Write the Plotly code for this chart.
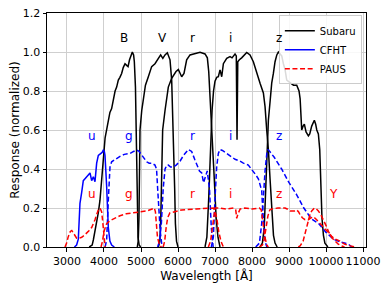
import plotly.graph_objects as go

# ---------------- Subaru (black, solid) ----------------
sub_B_wl = [3600, 3680, 3712, 3760, 3802, 3850, 3892, 3937, 3982, 4030, 4080, 4130, 4160, 4207, 4260, 4300,
            4342, 4387, 4430, 4477, 4520, 4568, 4620, 4650, 4690, 4720, 4766, 4800, 4820, 4850, 4865, 4880,
            4900, 4920, 4950, 4990]
sub_B_r = [0, 0.01, 0.036, 0.08, 0.12, 0.18, 0.24, 0.34, 0.47, 0.56, 0.61, 0.65, 0.69, 0.71, 0.76, 0.8,
           0.82, 0.856, 0.87, 0.89, 0.92, 0.94, 0.93, 0.925, 0.96, 0.975, 1.0, 0.985, 0.95, 0.82, 0.6, 0.35,
           0.15, 0.05, 0.01, 0]

sub_V_wl = [4900, 4925, 4945, 4960, 4973, 5020, 5063, 5120, 5198, 5288, 5378, 5468, 5531, 5590, 5649, 5712,
            5750, 5784, 5829, 5874, 5892, 5910, 5930, 5960, 6000]
sub_V_r = [0, 0.03, 0.15, 0.4, 0.6, 0.7, 0.77, 0.83, 0.873, 0.925, 0.94, 0.967, 0.985, 0.967, 0.985, 0.996,
           0.98, 0.96, 0.856, 0.6, 0.5, 0.3, 0.12, 0.03, 0]

sub_r_wl = [5470, 5510, 5535, 5555, 5585, 5649, 5700, 5738, 5829, 5946, 6009, 6060, 6099, 6162, 6234, 6325,
            6460, 6595, 6730, 6793, 6830, 6860, 6900, 6937, 6980, 7030, 7080, 7135]
sub_r_r = [0, 0.03, 0.15, 0.45, 0.6, 0.70, 0.77, 0.82, 0.865, 0.9, 0.91, 0.89, 0.873, 0.89, 0.96, 0.985,
           0.99, 0.998, 0.99, 0.97, 0.9, 0.8, 0.65, 0.55, 0.35, 0.15, 0.05, 0]

sub_i_wl = [6730, 6780, 6830, 6883, 6920, 6960, 7000, 7046, 7090, 7136, 7181, 7226, 7316, 7406, 7460, 7541,
            7575, 7595, 7615, 7658, 7720, 7857, 7946, 8036, 8127, 8217, 8307, 8352, 8397, 8442, 8487, 8532,
            8580, 8622, 8680]
sub_i_r = [0, 0.05, 0.25, 0.55, 0.7, 0.8, 0.85, 0.87, 0.873, 0.908, 0.873, 0.94, 0.967, 0.976, 0.97, 0.99,
           0.98, 0.55, 0.95, 0.96, 0.97, 0.998, 0.985, 0.95, 0.89, 0.84, 0.79, 0.72, 0.6, 0.5, 0.35, 0.17,
           0.06, 0.02, 0]

sub_z_wl = [8217, 8280, 8330, 8370, 8400, 8442, 8490, 8532, 8577, 8622, 8670, 8712, 8760, 8803, 8848, 8893,
            8938, 8983, 9028, 9120, 9208, 9270, 9300, 9343, 9380, 9414, 9460, 9523, 9560, 9613, 9684, 9720,
            9750, 9793, 9830, 9860, 9890, 9930, 9970, 10050]
sub_z_r = [0, 0.02, 0.1, 0.3, 0.5, 0.65, 0.75, 0.84, 0.89, 0.95, 0.985, 1.0, 0.99, 0.98, 0.94, 0.91,
           0.856, 0.85, 0.84, 0.83, 0.83, 0.8, 0.76, 0.6, 0.62, 0.63, 0.59, 0.57, 0.58, 0.62, 0.65, 0.63,
           0.6, 0.58, 0.5, 0.33, 0.15, 0.06, 0.02, 0]

# ---------------- CFHT (blue; u solid, others dashed) ----------------
cfht_u_wl = [3200, 3260, 3306, 3351, 3397, 3441, 3487, 3549, 3622, 3667, 3712, 3757, 3802, 3847, 3900, 3950,
             3982, 4010, 4027, 4050, 4072, 4095, 4117, 4160, 4207, 4280]
cfht_u_r = [0, 0.01, 0.04, 0.224, 0.28, 0.34, 0.35, 0.365, 0.38, 0.34, 0.36, 0.335, 0.43, 0.47, 0.48, 0.485,
            0.497, 0.49, 0.47, 0.4, 0.31, 0.2, 0.1, 0.03, 0.01, 0]

cfht_g_wl = [4030, 4072, 4117, 4162, 4207, 4300, 4432, 4550, 4703, 4800, 4883, 4950, 5018, 5100, 5153, 5220,
             5288, 5378, 5420, 5450, 5490, 5520, 5570]
cfht_g_r = [0, 0.036, 0.24, 0.41, 0.437, 0.45, 0.465, 0.475, 0.48, 0.49, 0.497, 0.49, 0.47, 0.45, 0.437, 0.43,
            0.43, 0.42, 0.4, 0.3, 0.18, 0.08, 0]

cfht_r_wl = [5450, 5500, 5550, 5600, 5650, 5700, 5738, 5800, 5873, 5950, 6054, 6150, 6279, 6369, 6450, 6505,
             6580, 6640, 6690, 6740, 6790, 6850, 6900, 6950]
cfht_r_r = [0, 0.03, 0.12, 0.3, 0.4, 0.42, 0.42, 0.41, 0.41, 0.42, 0.44, 0.47, 0.5, 0.49, 0.45, 0.42,
            0.39, 0.38, 0.33, 0.36, 0.39, 0.3, 0.1, 0]

cfht_i_wl = [6900, 6955, 7000, 7045, 7090, 7136, 7200, 7316, 7406, 7541, 7676, 7766, 7901, 7946, 8036, 8100,
             8171, 8230, 8262, 8289, 8320, 8352, 8400]
cfht_i_r = [0, 0.05, 0.25, 0.41, 0.48, 0.5, 0.495, 0.48, 0.47, 0.45, 0.44, 0.43, 0.42, 0.41, 0.39, 0.37,
            0.35, 0.31, 0.29, 0.19, 0.08, 0.03, 0]

cfht_z_wl = [8100, 8200, 8262, 8307, 8352, 8400, 8430, 8480, 8600, 8800, 9000, 9200, 9400, 9600, 9800, 10000,
             10200, 10400, 10600, 10700]
cfht_z_r = [0, 0.02, 0.12, 0.26, 0.39, 0.48, 0.5, 0.49, 0.46, 0.4, 0.33, 0.27, 0.2, 0.145, 0.12, 0.075,
            0.04, 0.025, 0.015, 0]

# ---------------- PAUS (red, dashed) ----------------
paus_u_wl = [2946, 2990, 3030, 3090, 3130, 3200, 3261, 3330, 3397, 3470, 3532, 3600, 3667, 3720, 3757, 3800,
             3847, 3892, 3937, 3960, 3982, 4005, 4030]
paus_u_r = [0, 0.02, 0.05, 0.08, 0.085, 0.065, 0.045, 0.045, 0.05, 0.06, 0.07, 0.085, 0.1, 0.12, 0.14, 0.165,
            0.19, 0.2, 0.18, 0.14, 0.085, 0.04, 0]

paus_g_wl = [3920, 3960, 4000, 4040, 4072, 4162, 4300, 4432, 4600, 4793, 4950, 5153, 5333, 5360, 5390, 5420,
             5445, 5500, 5550]
paus_g_r = [0, 0.03, 0.08, 0.11, 0.12, 0.135, 0.15, 0.16, 0.17, 0.175, 0.18, 0.185, 0.197, 0.2, 0.18, 0.1,
            0.05, 0.01, 0]

paus_r_wl = [5600, 5640, 5680, 5720, 5780, 5900, 6100, 6500, 6900, 6960, 7000, 7045, 7100, 7160, 7225]
paus_r_r = [0, 0.03, 0.1, 0.15, 0.175, 0.18, 0.19, 0.195, 0.2, 0.2, 0.18, 0.15, 0.08, 0.03, 0]

paus_i_wl = [6820, 6880, 6930, 6970, 7000, 7100, 7300, 7500, 7560, 7587, 7620, 7680, 7800, 8000, 8200, 8250,
             8300, 8350, 8400, 8440]
paus_i_r = [0, 0.03, 0.1, 0.17, 0.2, 0.2, 0.195, 0.2, 0.19, 0.147, 0.17, 0.195, 0.2, 0.195, 0.2, 0.19,
            0.12, 0.05, 0.01, 0]

paus_z_wl = [8200, 8280, 8330, 8380, 8430, 8480, 8532, 8700, 8893, 8950, 9028, 9073, 9150, 9208, 9260, 9298,
             9360, 9433, 9523, 9600, 9658, 9720, 9793, 9860, 9928, 10040, 10153, 10250, 10378, 10500, 10604,
             10800]
paus_z_r = [0, 0.01, 0.04, 0.1, 0.16, 0.19, 0.195, 0.2, 0.2, 0.195, 0.185, 0.185, 0.185, 0.19, 0.18, 0.165,
            0.15, 0.14, 0.14, 0.15, 0.155, 0.145, 0.13, 0.115, 0.1, 0.075, 0.055, 0.04, 0.03, 0.015, 0.008, 0]

paus_Y_wl = [9250, 9298, 9380, 9433, 9480, 9523, 9570, 9613, 9684, 9740, 9793, 9860, 9928, 10000, 10064,
             10150, 10244, 10330, 10424, 10500]
paus_Y_r = [0, 0.005, 0.03, 0.07, 0.11, 0.14, 0.17, 0.185, 0.2, 0.195, 0.185, 0.165, 0.14, 0.11, 0.08,
            0.05, 0.03, 0.015, 0.005, 0]

# ---------------- band labels ----------------
sub_labels = ["B", "V", "r", "i", "z"]
sub_label_wl = [4540, 5576, 6379, 7424, 8730]
sub_label_y = 1.07
cfht_labels = ["u", "g", "r", "i", "z"]
cfht_label_wl = [3676, 4667, 6379, 7424, 8730]
cfht_label_y = 0.57
paus_labels = ["u", "g", "r", "i", "z", "Y"]
paus_label_wl = [3676, 4667, 6379, 7424, 8730, 10198]
paus_label_y = 0.27

x_ticks = [3000, 4000, 5000, 6000, 7000, 8000, 9000, 10000, 11000]
x_ticklabels = ["3000", "4000", "5000", "6000", "7000", "8000", "9000", "10000", "11000"]
y_ticks = [0, 0.2, 0.4, 0.6, 0.8, 1.0, 1.2]
y_ticklabels = ["0.0", "0.2", "0.4", "0.6", "0.8", "1.0", "1.2"]

BLACK, BLUE, RED = "#000000", "#0000ff", "#ff0000"
DASH = "5px,2.6px"
LW = 1.5

fig = go.Figure()

def add(wl, r, color, dash, name, show):
    fig.add_trace(go.Scatter(x=wl, y=r, mode="lines", name=name, legendgroup=name,
                             showlegend=show, line=dict(color=color, width=LW, dash=dash)))

sub_sets = [(sub_B_wl, sub_B_r), (sub_V_wl, sub_V_r), (sub_r_wl, sub_r_r), (sub_i_wl, sub_i_r), (sub_z_wl, sub_z_r)]
for k, (w, r) in enumerate(sub_sets):
    add(w, r, BLACK, "solid", "Subaru", k == 0)

add(cfht_u_wl, cfht_u_r, BLUE, "solid", "CFHT", True)
for w, r in [(cfht_g_wl, cfht_g_r), (cfht_r_wl, cfht_r_r), (cfht_i_wl, cfht_i_r), (cfht_z_wl, cfht_z_r)]:
    add(w, r, BLUE, DASH, "CFHT_d", False)

paus_sets = [(paus_u_wl, paus_u_r), (paus_g_wl, paus_g_r), (paus_r_wl, paus_r_r), (paus_i_wl, paus_i_r),
             (paus_z_wl, paus_z_r), (paus_Y_wl, paus_Y_r)]
for k, (w, r) in enumerate(paus_sets):
    add(w, r, RED, DASH, "PAUS", k == 0)

FONT = "DejaVu Sans"
for labels, wls, yv, col in [(sub_labels, sub_label_wl, sub_label_y, BLACK),
                             (cfht_labels, cfht_label_wl, cfht_label_y, BLUE),
                             (paus_labels, paus_label_wl, paus_label_y, RED)]:
    for t, w in zip(labels, wls):
        fig.add_annotation(x=w, y=yv, xref="x", yref="y", text=t, showarrow=False,
                           font=dict(family=FONT, size=12, color=col))

axis_common = dict(showline=True, linecolor="black", linewidth=1, mirror=True,
                   ticks="outside", ticklen=3.5, tickwidth=1, tickcolor="black",
                   showgrid=True, gridcolor="#cfcfcf", gridwidth=1, zeroline=False,
                   automargin=False, ticklabeloverflow="allow",
                   tickfont=dict(family=FONT, size=11, color="black"))

fig.update_xaxes(range=[2460, 11080], tickmode="array", tickvals=x_ticks, ticktext=x_ticklabels,
                 title=dict(text="Wavelength [Å]", font=dict(family=FONT, size=12, color="black"), standoff=4),
                 **axis_common)
fig.update_yaxes(range=[0, 1.2], tickmode="array", tickvals=y_ticks, ticktext=y_ticklabels,
                 title=dict(text="Response (normalized)", font=dict(family=FONT, size=12, color="black"), standoff=4),
                 **axis_common)

# page body has an 8px default margin, so the figure is sized/offset to compensate
fig.update_layout(width=374, height=277, margin=dict(l=39, r=16, t=5, b=38, autoexpand=False),
                  paper_bgcolor="white", plot_bgcolor="white",
                  font=dict(family=FONT, size=11, color="black"),
                  legend=dict(x=0.987, y=0.99, xanchor="right", yanchor="top",
                              bgcolor="rgba(255,255,255,0.85)", bordercolor="#cccccc", borderwidth=1,
                              font=dict(family=FONT, size=10, color="black"), itemwidth=30,
                              tracegroupgap=0))

fig.write_html("out.html")
